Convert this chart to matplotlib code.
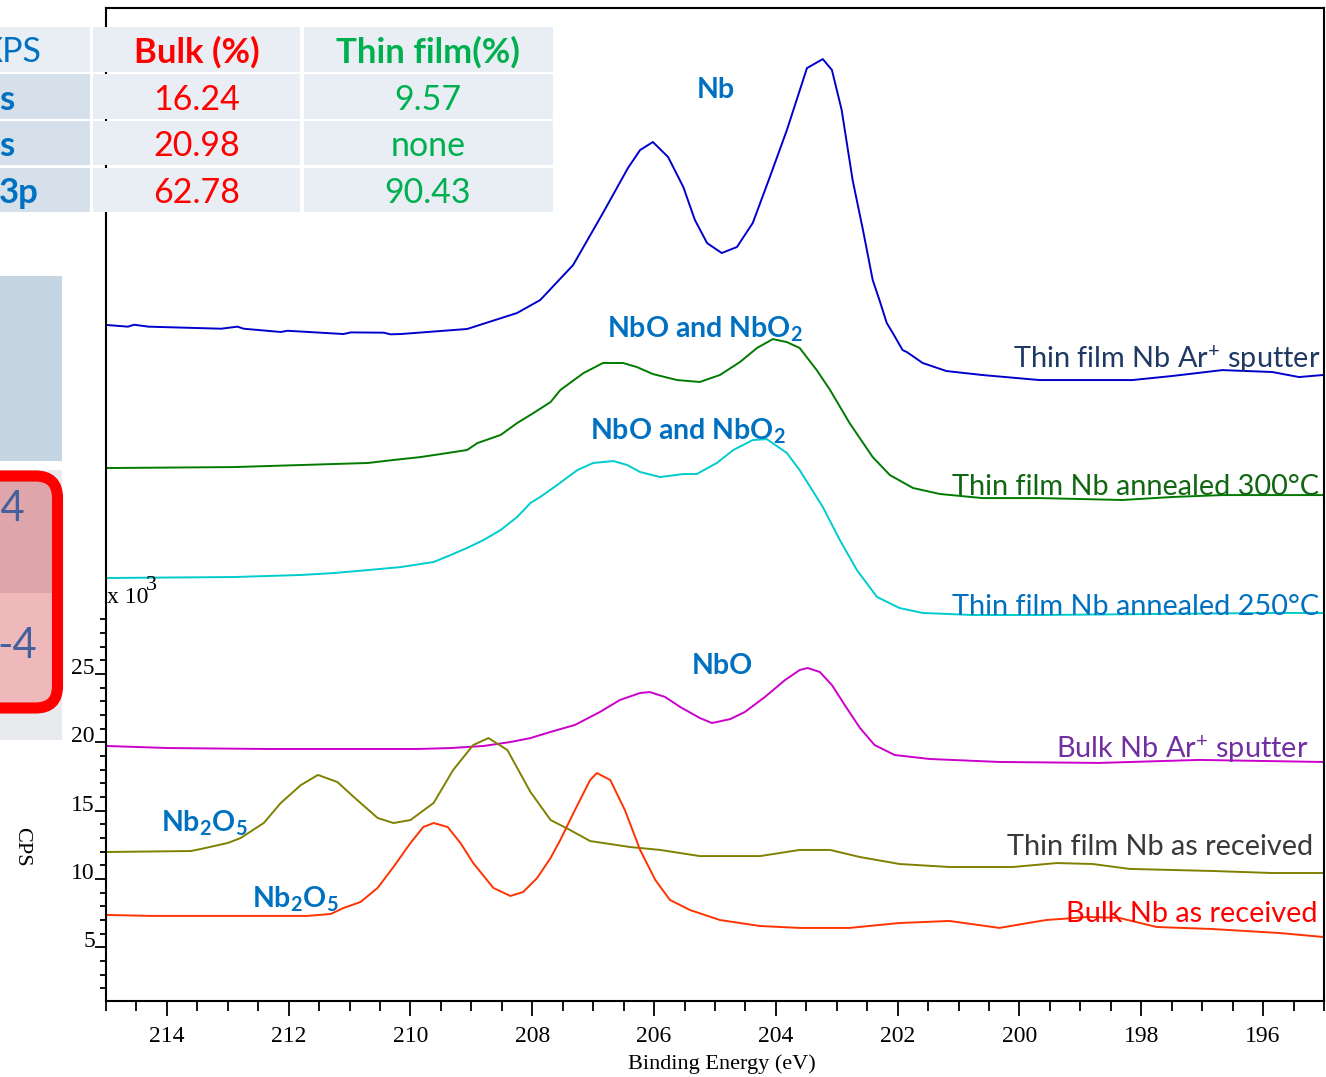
import numpy as np
import matplotlib
matplotlib.use("Agg")
import matplotlib.pyplot as plt
from matplotlib.patches import Rectangle, FancyBboxPatch

W, H = 1326, 1077

# Nb 3p region, binding energy (eV) and counts (x10^3 CPS)
ev_film_ar = [214.98, 214.64, 214.54, 214.30, 213.11, 212.84, 212.74, 212.13, 212.02, 211.10,
              210.98, 210.44, 210.33, 210.16, 209.07, 208.25, 207.87, 207.33, 206.84, 206.43,
              206.23, 206.02, 205.77, 205.52, 205.33, 205.13, 204.89, 204.64, 204.38, 204.10,
              203.82, 203.49, 203.23, 203.08, 202.92, 202.74, 202.57, 202.41, 202.30, 202.18,
              202.08, 201.92, 201.85, 201.59, 201.20, 200.61, 199.67, 198.15, 197.49, 196.67,
              195.85, 195.41, 195.02]
cps_film_ar = [50.55, 50.43, 50.57, 50.43, 50.28, 50.43, 50.28, 50.04, 50.13, 49.89,
               50.01, 49.99, 49.87, 49.89, 50.26, 51.43, 52.38, 54.94, 58.75, 62.04,
               63.36, 63.95, 62.85, 60.65, 58.24, 56.55, 55.82, 56.26, 58.02, 61.38,
               64.82, 69.36, 70.02, 69.22, 66.29, 61.16, 57.50, 53.84, 52.38, 50.70,
               49.96, 48.72, 48.57, 47.77, 47.18, 46.89, 46.52, 46.52, 46.82, 47.25,
               47.11, 46.74, 46.89]

ev_film_300 = [214.98, 212.90, 211.80, 210.70, 210.28, 209.84, 209.39, 209.07, 208.90, 208.52,
               208.25, 207.98, 207.70, 207.54, 207.16, 206.84, 206.51, 206.28, 206.02, 205.62,
               205.25, 204.92, 204.59, 204.31, 204.05, 203.82, 203.61, 203.33, 203.11, 202.79,
               202.41, 202.13, 201.75, 201.31, 200.61, 199.67, 198.31, 197.49, 196.67, 195.02]
cps_film_300 = [40.08, 40.15, 40.30, 40.45, 40.67, 40.88, 41.18, 41.40, 41.91, 42.50,
                43.37, 44.11, 44.91, 45.79, 47.03, 47.77, 47.77, 47.47, 46.96, 46.52,
                46.38, 46.89, 47.84, 48.87, 49.52, 49.30, 48.87, 47.25, 45.79, 43.37,
                40.88, 39.57, 38.62, 38.18, 37.88, 37.88, 37.74, 37.96, 38.10, 38.10]

ev_film_250 = [214.98, 212.90, 211.80, 211.26, 210.70, 210.16, 209.62, 209.34, 209.07, 208.80,
               208.52, 208.25, 208.03, 207.87, 207.59, 207.26, 207.00, 206.67, 206.44, 206.23,
               205.90, 205.52, 205.30, 204.97, 204.70, 204.38, 204.15, 203.82, 203.61, 203.23,
               202.95, 202.67, 202.34, 201.97, 201.59, 200.77, 199.67, 195.85, 195.02]
cps_film_250 = [32.03, 32.10, 32.25, 32.39, 32.61, 32.83, 33.20, 33.71, 34.23, 34.81,
                35.54, 36.49, 37.52, 37.96, 38.84, 39.93, 40.45, 40.59, 40.30, 39.79,
                39.42, 39.64, 39.64, 40.45, 41.40, 42.13, 42.20, 41.18, 39.93, 37.23,
                34.81, 32.61, 30.64, 29.83, 29.47, 29.32, 29.32, 29.47, 29.47]

ev_bulk_ar = [214.98, 213.98, 212.34, 209.89, 209.34, 208.80, 208.36, 208.03, 207.70, 207.30,
              206.89, 206.56, 206.23, 206.07, 205.82, 205.57, 205.25, 205.05, 204.75, 204.51,
              204.18, 203.85, 203.61, 203.48, 203.28, 203.08, 202.87, 202.62, 202.38, 202.05,
              201.48, 200.33, 198.69, 197.05, 195.02]
cps_bulk_ar = [19.73, 19.58, 19.51, 19.51, 19.58, 19.73, 20.02, 20.31, 20.76, 21.27,
               22.22, 23.10, 23.61, 23.68, 23.32, 22.58, 21.78, 21.41, 21.70, 22.22,
               23.32, 24.56, 25.29, 25.44, 25.15, 24.19, 22.73, 21.05, 19.80, 19.07,
               18.78, 18.56, 18.49, 18.71, 18.56]

ev_film_rec = [214.98, 213.61, 213.44, 213.00, 212.79, 212.41, 212.13, 211.80, 211.52, 211.20,
               210.93, 210.54, 210.28, 210.00, 209.62, 209.30, 208.97, 208.72, 208.41, 208.03,
               207.70, 207.38, 207.05, 206.39, 205.90, 205.25, 204.26, 203.61, 203.11, 202.62,
               201.97, 201.15, 200.11, 199.39, 198.80, 198.19, 196.84, 195.85, 195.02]
cps_film_rec = [11.97, 12.04, 12.19, 12.63, 12.99, 14.09, 15.56, 16.87, 17.61, 17.09,
                15.99, 14.46, 14.09, 14.31, 15.56, 17.97, 19.80, 20.31, 19.44, 16.36,
                14.31, 13.58, 12.77, 12.33, 12.12, 11.67, 11.67, 12.12, 12.12, 11.60,
                11.09, 10.87, 10.87, 11.16, 11.09, 10.73, 10.58, 10.43, 10.43]

ev_bulk_rec = [214.98, 214.26, 211.69, 211.31, 211.10, 210.82, 210.54, 210.28, 210.00, 209.79,
               209.62, 209.39, 209.18, 208.97, 208.64, 208.36, 208.15, 207.92, 207.70, 207.54,
               207.30, 207.05, 206.94, 206.72, 206.48, 206.23, 205.98, 205.74, 205.41, 204.92,
               204.26, 203.61, 202.79, 201.97, 201.15, 200.33, 199.95, 199.56, 198.87, 198.36,
               197.75, 196.84, 195.74, 195.02]
cps_bulk_rec = [7.36, 7.29, 7.29, 7.43, 7.87, 8.31, 9.34, 10.87, 12.63, 13.80,
                14.09, 13.80, 12.63, 11.16, 9.34, 8.75, 9.04, 10.07, 11.53, 12.85,
                15.04, 17.24, 17.75, 17.24, 15.04, 12.12, 9.92, 8.46, 7.72, 6.99,
                6.55, 6.41, 6.41, 6.77, 6.92, 6.41, 6.70, 6.99, 7.21, 7.14,
                6.48, 6.33, 6.04, 5.75]

series = [
    (ev_film_ar, cps_film_ar, '#0000CC'),
    (ev_film_300, cps_film_300, '#007A00'),
    (ev_film_250, cps_film_250, '#00CCCC'),
    (ev_bulk_ar, cps_bulk_ar, '#CC00CC'),
    (ev_film_rec, cps_film_rec, '#808000'),
    (ev_bulk_rec, cps_bulk_rec, '#FF3300'),
]

# table from the slide (left part is cut off in the picture)
tbl_header = ["XPS", "Bulk (%)", "Thin film(%)"]
tbl_rows = ["s", "s", "3p"]
bulk_pct = ["16.24", "20.98", "62.78"]
film_pct = ["9.57", "none", "90.43"]

plt.rcParams['font.family'] = 'Liberation Serif'
plt.rcParams['mathtext.fontset'] = 'custom'
plt.rcParams['mathtext.rm'] = 'Lato'
plt.rcParams['mathtext.bf'] = 'Lato:bold'
plt.rcParams['mathtext.it'] = 'Lato:italic'

fig = plt.figure(figsize=(W / 100, H / 100), dpi=100)
ax = fig.add_axes([106 / W, 1 - 1001 / H, (1324 - 106) / W, (1001 - 8) / H])
for ev, cps, col in series:
    ax.plot(ev, cps, color=col, lw=1.4)

ax.set_xlim(214.98, 195.02)
ax.set_ylim(1.06, 73.76)
ax.set_xticks(range(214, 195, -2))
ax.set_xticks(np.arange(195, 215.01, 0.5), minor=True)
ax.set_yticks([5, 10, 15, 20, 25])
ax.set_yticks([m for m in range(2, 30) if m % 5], minor=True)
ax.tick_params(axis='x', which='major', length=11, width=1.3, pad=7, labelsize=17)
ax.tick_params(axis='x', which='minor', length=7, width=1.3)
ax.tick_params(axis='y', which='major', length=8, width=1.3, pad=0, labelsize=17)
ax.tick_params(axis='y', which='minor', length=4.5, width=1.3)
for lab in ax.get_yticklabels():
    lab.set_va('baseline')
for s in ax.spines.values():
    s.set_linewidth(1.5)

# overlay in pixel coordinates for the slide items
ov = fig.add_axes([0, 0, 1, 1], zorder=3)
ov.set_xlim(0, W)
ov.set_ylim(H, 0)
ov.axis('off')
ov.patch.set_alpha(0)

sans = ['Lato', 'DejaVu Sans']
blue = '#0070C0'

# table
cols = [(-5, 90), (93, 300), (304, 553)]
rows = [(27, 72), (74, 119), (121, 165), (168, 212)]
for r, (y0, y1) in enumerate(rows):
    for c, (x0, x1) in enumerate(cols):
        fc = '#D6E0EA' if (c == 0 and r > 0) else '#E9EEF4'
        ov.add_patch(Rectangle((x0, y0), x1 - x0, y1 - y0, color=fc, lw=0))
ov.text(42, 52, tbl_header[0], color=blue, fontsize=24.5, family=sans, ha='right', va='center')
ov.text(197, 52, tbl_header[1], color='#FF0000', fontsize=25, family=sans, weight='bold',
        ha='center', va='center')
ov.text(428, 52, tbl_header[2], color='#00B050', fontsize=25, family=sans, weight='bold',
        ha='center', va='center')
for i in range(3):
    yc = (rows[i + 1][0] + rows[i + 1][1]) / 2 + 3
    ov.text(-1, yc, tbl_rows[i], color=blue, fontsize=25, family=sans, weight='bold',
            ha='left', va='center')
    ov.text(197, yc, bulk_pct[i], color='#FF0000', fontsize=24.5, family=sans, ha='center', va='center')
    ov.text(428, yc, film_pct[i], color='#00B050', fontsize=24.5, family=sans, ha='center', va='center')

# left slide panel
ov.add_patch(Rectangle((-5, 276), 67, 185, color='#C5D5E2', lw=0))
ov.add_patch(Rectangle((-5, 470), 67, 270, color='#E8EAEE', lw=0))
box = FancyBboxPatch((-40, 476), 97.5, 232, boxstyle='round,pad=0,rounding_size=22',
                     facecolor='none', edgecolor='#FF0000', lw=8)
up = Rectangle((-40, 476), 100, 117, color='#DEA5AB', lw=0)
low = Rectangle((-40, 593), 100, 115, color='#EFB9BC', lw=0)
for p in (up, low):
    ov.add_patch(p)
    p.set_clip_path(box.get_path(), ov.transData)
ov.add_patch(box)
ov.text(25, 509, "-4", color='#44619E', fontsize=30, family=sans, ha='right', va='center')
ov.text(37, 646, "-4", color='#44619E', fontsize=30, family=sans, ha='right', va='center')

# peak labels
peak_lbls = [("Nb", 697, 98), (r"NbO and NbO$_\mathbf{2}$", 607, 338),
             (r"NbO and NbO$_\mathbf{2}$", 590, 439), ("NbO", 692, 674),
             (r"Nb$_\mathbf{2}$O$_\mathbf{5}$", 161, 832), (r"Nb$_\mathbf{2}$O$_\mathbf{5}$", 252, 908)]
for t, x, y in peak_lbls:
    ov.text(x, y, t, color=blue, fontsize=20.5, family=sans, weight='bold', ha='left', va='baseline')

curve_lbls = [("Thin film Nb Ar$^{+}$ sputter", 1320, 368, '#1F3864'),
              ("Thin film Nb annealed 300°C", 1319, 495, '#116611'),
              ("Thin film Nb annealed 250°C", 1319, 615, blue),
              ("Bulk Nb Ar$^{+}$ sputter", 1308, 758, '#7030A0'),
              ("Thin film Nb as received", 1313, 855, '#3B3838'),
              ("Bulk Nb as received", 1318, 922, '#FF0000')]
for t, x, y, c in curve_lbls:
    ov.text(x, y, t, color=c, fontsize=20.8, family=sans, ha='right', va='baseline')

# axis texts
ov.text(107, 603, "x 10", fontsize=17, ha='left', va='baseline')
ov.text(146, 590, "3", fontsize=16, ha='left', va='baseline')
ov.text(22, 847, "CPS", fontsize=16, rotation=270, ha='center', va='center')
ov.text(722, 1064, "Binding Energy (eV)", fontsize=16, ha='center', va='center')

fig.savefig("out.png", dpi=100)
